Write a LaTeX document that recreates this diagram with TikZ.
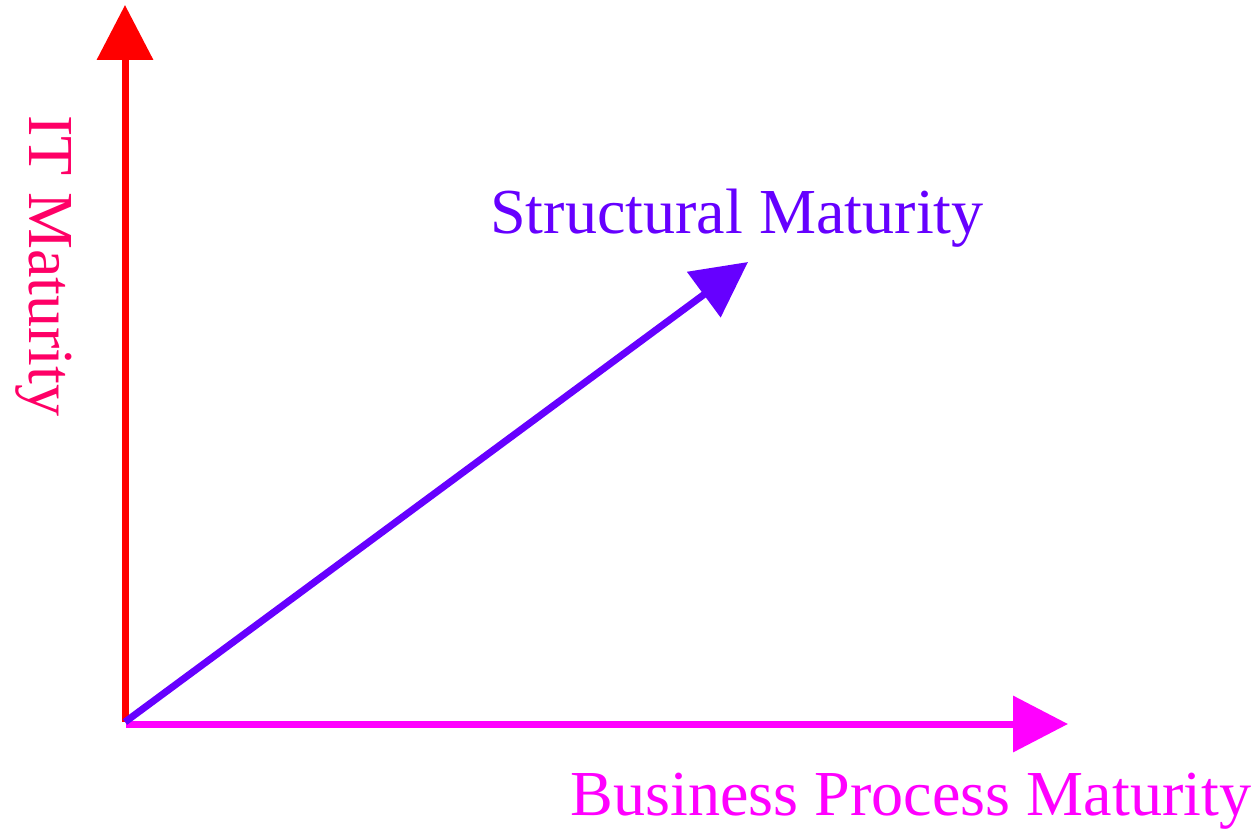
\documentclass[tikz,border=0pt]{standalone}
\usepackage{fontspec}
\setmainfont{Liberation Serif}
\usetikzlibrary{arrows.meta}
\definecolor{itred}{HTML}{FF0000}
\definecolor{itpink}{HTML}{FF0066}
\definecolor{smpurple}{HTML}{6600FF}
\definecolor{bpmagenta}{HTML}{FF00FF}
\tikzstyle{axis} = [line width=0.14cm, -{Triangle[length=1.1cm,width=1.1cm]}]
\tikzstyle{axislabel} = [font=\fontsize{36.5}{44}\selectfont, inner sep=0pt, anchor=base]

\begin{document}
\begin{tikzpicture}[x=0.02cm, y=-0.02cm]
    \useasboundingbox (0,0) rectangle (1257,831);
    \coordinate (origin) at (125,722);
    \coordinate (bpstart) at (126,724);
    \coordinate (itend) at (125,5);
    \coordinate (bpend) at (1068,724);
    \coordinate (smend) at (748,262);

    \node (itlabel) [axislabel, text=itpink, rotate=-90] at (30,266) {IT Maturity};
    \node (smlabel) [axislabel, text=smpurple] at (737,234) {Structural Maturity};
    \node (bplabel) [axislabel, text=bpmagenta] at (911,815) {Business Process Maturity};

    \draw [axis, itred] (origin) -- (itend);
    \draw [axis, bpmagenta] (bpstart) -- (bpend);
    \draw [axis, smpurple] (origin) -- (smend);
\end{tikzpicture}
\end{document}
